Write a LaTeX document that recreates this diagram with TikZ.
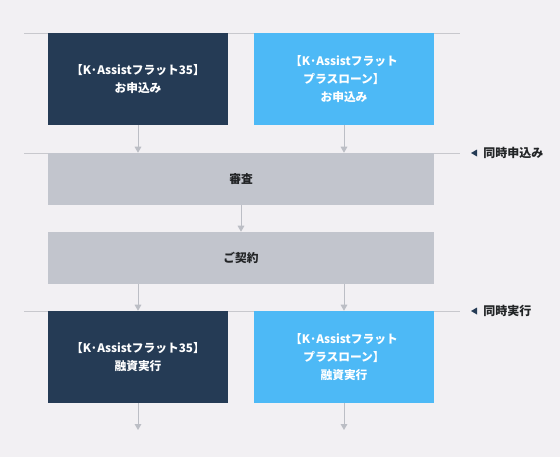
\documentclass[tikz,border=0pt]{standalone}
\usepackage{fontspec}
\newfontfamily\jp{Noto Sans CJK JP}
\usetikzlibrary{arrows.meta}
\definecolor{bgc}{HTML}{F2F0F3}
\definecolor{navy}{HTML}{253B55}
\definecolor{sky}{HTML}{4DB9F6}
\definecolor{grayb}{HTML}{C2C5CD}
\definecolor{linec}{HTML}{C8C8CD}
\definecolor{arrc}{HTML}{BCBEC5}
\definecolor{txt}{HTML}{222426}
\tikzset{
  basebox/.style={inner sep=0pt, align=center, font=\jp\bfseries\fontsize{8.8}{13.5}\selectfont},
  navybox/.style={basebox, fill=navy, text=white, minimum width=135pt, minimum height=69pt},
  skybox/.style={basebox, fill=sky, text=white, minimum width=135pt, minimum height=69pt},
  graybox/.style={basebox, fill=grayb, text=txt, minimum width=289.5pt, minimum height=39pt},
  sepline/.style={draw=linec, line width=0.75pt},
  flow/.style={draw=arrc, line width=0.75pt, -{Triangle[length=4.5pt,width=5pt]}},
  sidelab/.style={inner sep=0pt, anchor=west, text=txt, font=\jp\bfseries\fontsize{9}{11}\selectfont},
  tri/.style={fill=navy}
}
\begin{document}
\begin{tikzpicture}[x=0.75pt,y=-0.75pt]
\fill[bgc] (0,0) rectangle (560,457);
\useasboundingbox (0,0) rectangle (560,457);

% separator lines
\coordinate (a1) at (24,33);  \coordinate (b1) at (460,33);
\coordinate (a2) at (24,153); \coordinate (b2) at (460,153);
\coordinate (a3) at (24,311); \coordinate (b3) at (460,311);
\draw[sepline] (a1) -- (b1);
\draw[sepline] (a2) -- (b2);
\draw[sepline] (a3) -- (b3);

% boxes
\node[navybox] (n1) at (138,79) {【K·Assistフラット35】\\お申込み};
\node[skybox] (s1) at (344,79) {【K·Assistフラット\\プラスローン】\\お申込み};
\node[graybox] (g1) at (241,179) {審査};
\node[graybox] (g2) at (241,258) {ご契約};
\node[navybox] (n2) at (138,357) {【K·Assistフラット35】\\融資実行};
\node[skybox] (s2) at (344,357) {【K·Assistフラット\\プラスローン】\\融資実行};

% end coordinates
\coordinate (e1) at (138,430);
\coordinate (e2) at (344,430);

% connectors
\draw[flow] (n1.south) -- (n1.south |- g1.north);
\draw[flow] (s1.south) -- (s1.south |- g1.north);
\draw[flow] (g1.south) -- (g2.north);
\draw[flow] (n2.north |- g2.south) -- (n2.north);
\draw[flow] (s2.north |- g2.south) -- (s2.north);
\draw[flow] (n2.south) -- (e1);
\draw[flow] (s2.south) -- (e2);

% side labels
\node[sidelab] (l1) at (483,153) {同時申込み};
\node[sidelab] (l2) at (483,311) {同時実行};
\fill[tri] (471,153) -- (477,149.5) -- (477,156.5) -- cycle;
\fill[tri] (471,311) -- (477,307.5) -- (477,314.5) -- cycle;
\end{tikzpicture}
\end{document}
